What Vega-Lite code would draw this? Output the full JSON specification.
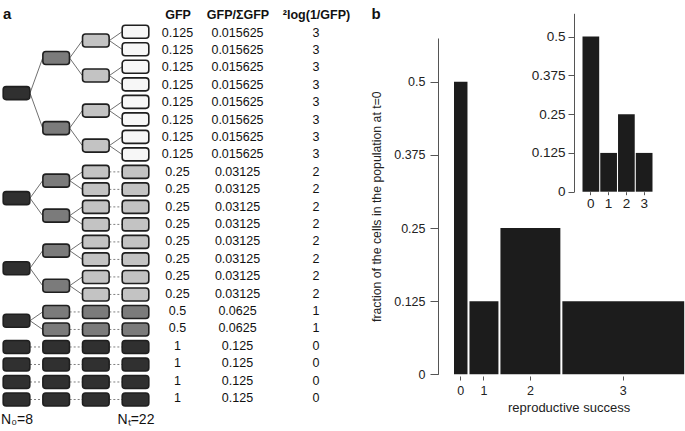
{
  "$schema": "https://vega.github.io/schema/vega-lite/v6.json",
  "width": 685,
  "height": 431,
  "autosize": "none",
  "padding": 0,
  "background": "white",
  "config": {"font": "Liberation Sans", "view": {"stroke": null}, "axis": {"grid": false}},
  "datasets": {
    "splits": [
      {"g": 0, "g2": 1, "r1": 3.5, "r2": 1.5}, {"g": 0, "g2": 1, "r1": 3.5, "r2": 5.5},
      {"g": 1, "g2": 2, "r1": 1.5, "r2": 0.5}, {"g": 1, "g2": 2, "r1": 1.5, "r2": 2.5},
      {"g": 1, "g2": 2, "r1": 5.5, "r2": 4.5}, {"g": 1, "g2": 2, "r1": 5.5, "r2": 6.5},
      {"g": 2, "g2": 3, "r1": 0.5, "r2": 0}, {"g": 2, "g2": 3, "r1": 0.5, "r2": 1},
      {"g": 2, "g2": 3, "r1": 2.5, "r2": 2}, {"g": 2, "g2": 3, "r1": 2.5, "r2": 3},
      {"g": 2, "g2": 3, "r1": 4.5, "r2": 4}, {"g": 2, "g2": 3, "r1": 4.5, "r2": 5},
      {"g": 2, "g2": 3, "r1": 6.5, "r2": 6}, {"g": 2, "g2": 3, "r1": 6.5, "r2": 7},
      {"g": 0, "g2": 1, "r1": 9.5, "r2": 8.5}, {"g": 0, "g2": 1, "r1": 9.5, "r2": 10.5},
      {"g": 1, "g2": 2, "r1": 8.5, "r2": 8}, {"g": 1, "g2": 2, "r1": 8.5, "r2": 9},
      {"g": 1, "g2": 2, "r1": 10.5, "r2": 10}, {"g": 1, "g2": 2, "r1": 10.5, "r2": 11},
      {"g": 0, "g2": 1, "r1": 13.5, "r2": 12.5}, {"g": 0, "g2": 1, "r1": 13.5, "r2": 14.5},
      {"g": 1, "g2": 2, "r1": 12.5, "r2": 12}, {"g": 1, "g2": 2, "r1": 12.5, "r2": 13},
      {"g": 1, "g2": 2, "r1": 14.5, "r2": 14}, {"g": 1, "g2": 2, "r1": 14.5, "r2": 15},
      {"g": 0, "g2": 1, "r1": 16.5, "r2": 16}, {"g": 0, "g2": 1, "r1": 16.5, "r2": 17}
    ],
    "stays": [
      {"g": 2, "g2": 3, "r": 8}, {"g": 2, "g2": 3, "r": 9}, {"g": 2, "g2": 3, "r": 10}, {"g": 2, "g2": 3, "r": 11},
      {"g": 2, "g2": 3, "r": 12}, {"g": 2, "g2": 3, "r": 13}, {"g": 2, "g2": 3, "r": 14}, {"g": 2, "g2": 3, "r": 15},
      {"g": 1, "g2": 2, "r": 16}, {"g": 1, "g2": 2, "r": 17}, {"g": 2, "g2": 3, "r": 16}, {"g": 2, "g2": 3, "r": 17},
      {"g": 0, "g2": 1, "r": 18}, {"g": 1, "g2": 2, "r": 18}, {"g": 2, "g2": 3, "r": 18},
      {"g": 0, "g2": 1, "r": 19}, {"g": 1, "g2": 2, "r": 19}, {"g": 2, "g2": 3, "r": 19},
      {"g": 0, "g2": 1, "r": 20}, {"g": 1, "g2": 2, "r": 20}, {"g": 2, "g2": 3, "r": 20},
      {"g": 0, "g2": 1, "r": 21}, {"g": 1, "g2": 2, "r": 21}, {"g": 2, "g2": 3, "r": 21}
    ],
    "cells": [
      {"gen": 0, "row": 3.5, "div": 0},
      {"gen": 1, "row": 1.5, "div": 1}, {"gen": 1, "row": 5.5, "div": 1},
      {"gen": 2, "row": 0.5, "div": 2}, {"gen": 2, "row": 2.5, "div": 2}, {"gen": 2, "row": 4.5, "div": 2}, {"gen": 2, "row": 6.5, "div": 2},
      {"gen": 3, "row": 0, "div": 3}, {"gen": 3, "row": 1, "div": 3}, {"gen": 3, "row": 2, "div": 3}, {"gen": 3, "row": 3, "div": 3},
      {"gen": 3, "row": 4, "div": 3}, {"gen": 3, "row": 5, "div": 3}, {"gen": 3, "row": 6, "div": 3}, {"gen": 3, "row": 7, "div": 3},
      {"gen": 0, "row": 9.5, "div": 0},
      {"gen": 1, "row": 8.5, "div": 1}, {"gen": 1, "row": 10.5, "div": 1},
      {"gen": 2, "row": 8, "div": 2}, {"gen": 2, "row": 9, "div": 2}, {"gen": 2, "row": 10, "div": 2}, {"gen": 2, "row": 11, "div": 2},
      {"gen": 3, "row": 8, "div": 2}, {"gen": 3, "row": 9, "div": 2}, {"gen": 3, "row": 10, "div": 2}, {"gen": 3, "row": 11, "div": 2},
      {"gen": 0, "row": 13.5, "div": 0},
      {"gen": 1, "row": 12.5, "div": 1}, {"gen": 1, "row": 14.5, "div": 1},
      {"gen": 2, "row": 12, "div": 2}, {"gen": 2, "row": 13, "div": 2}, {"gen": 2, "row": 14, "div": 2}, {"gen": 2, "row": 15, "div": 2},
      {"gen": 3, "row": 12, "div": 2}, {"gen": 3, "row": 13, "div": 2}, {"gen": 3, "row": 14, "div": 2}, {"gen": 3, "row": 15, "div": 2},
      {"gen": 0, "row": 16.5, "div": 0},
      {"gen": 1, "row": 16, "div": 1}, {"gen": 1, "row": 17, "div": 1},
      {"gen": 2, "row": 16, "div": 1}, {"gen": 2, "row": 17, "div": 1},
      {"gen": 3, "row": 16, "div": 1}, {"gen": 3, "row": 17, "div": 1},
      {"gen": 0, "row": 18, "div": 0}, {"gen": 1, "row": 18, "div": 0}, {"gen": 2, "row": 18, "div": 0}, {"gen": 3, "row": 18, "div": 0},
      {"gen": 0, "row": 19, "div": 0}, {"gen": 1, "row": 19, "div": 0}, {"gen": 2, "row": 19, "div": 0}, {"gen": 3, "row": 19, "div": 0},
      {"gen": 0, "row": 20, "div": 0}, {"gen": 1, "row": 20, "div": 0}, {"gen": 2, "row": 20, "div": 0}, {"gen": 3, "row": 20, "div": 0},
      {"gen": 0, "row": 21, "div": 0}, {"gen": 1, "row": 21, "div": 0}, {"gen": 2, "row": 21, "div": 0}, {"gen": 3, "row": 21, "div": 0}
    ],
    "table": [
      {"row": 0, "GFP": 0.125, "GFP/ΣGFP": 0.015625, "²log(1/GFP)": 3},
      {"row": 1, "GFP": 0.125, "GFP/ΣGFP": 0.015625, "²log(1/GFP)": 3},
      {"row": 2, "GFP": 0.125, "GFP/ΣGFP": 0.015625, "²log(1/GFP)": 3},
      {"row": 3, "GFP": 0.125, "GFP/ΣGFP": 0.015625, "²log(1/GFP)": 3},
      {"row": 4, "GFP": 0.125, "GFP/ΣGFP": 0.015625, "²log(1/GFP)": 3},
      {"row": 5, "GFP": 0.125, "GFP/ΣGFP": 0.015625, "²log(1/GFP)": 3},
      {"row": 6, "GFP": 0.125, "GFP/ΣGFP": 0.015625, "²log(1/GFP)": 3},
      {"row": 7, "GFP": 0.125, "GFP/ΣGFP": 0.015625, "²log(1/GFP)": 3},
      {"row": 8, "GFP": 0.25, "GFP/ΣGFP": 0.03125, "²log(1/GFP)": 2},
      {"row": 9, "GFP": 0.25, "GFP/ΣGFP": 0.03125, "²log(1/GFP)": 2},
      {"row": 10, "GFP": 0.25, "GFP/ΣGFP": 0.03125, "²log(1/GFP)": 2},
      {"row": 11, "GFP": 0.25, "GFP/ΣGFP": 0.03125, "²log(1/GFP)": 2},
      {"row": 12, "GFP": 0.25, "GFP/ΣGFP": 0.03125, "²log(1/GFP)": 2},
      {"row": 13, "GFP": 0.25, "GFP/ΣGFP": 0.03125, "²log(1/GFP)": 2},
      {"row": 14, "GFP": 0.25, "GFP/ΣGFP": 0.03125, "²log(1/GFP)": 2},
      {"row": 15, "GFP": 0.25, "GFP/ΣGFP": 0.03125, "²log(1/GFP)": 2},
      {"row": 16, "GFP": 0.5, "GFP/ΣGFP": 0.0625, "²log(1/GFP)": 1},
      {"row": 17, "GFP": 0.5, "GFP/ΣGFP": 0.0625, "²log(1/GFP)": 1},
      {"row": 18, "GFP": 1, "GFP/ΣGFP": 0.125, "²log(1/GFP)": 0},
      {"row": 19, "GFP": 1, "GFP/ΣGFP": 0.125, "²log(1/GFP)": 0},
      {"row": 20, "GFP": 1, "GFP/ΣGFP": 0.125, "²log(1/GFP)": 0},
      {"row": 21, "GFP": 1, "GFP/ΣGFP": 0.125, "²log(1/GFP)": 0}
    ],
    "success": [
      {"rs": 0, "lo": 0, "hi": 1, "frac": 0.5},
      {"rs": 1, "lo": 1, "hi": 3, "frac": 0.125},
      {"rs": 2, "lo": 3, "hi": 7, "frac": 0.25},
      {"rs": 3, "lo": 7, "hi": 15, "frac": 0.125}
    ],
    "inset": [
      {"rs": "0", "frac": 0.5},
      {"rs": "1", "frac": 0.125},
      {"rs": "2", "frac": 0.25},
      {"rs": "3", "frac": 0.125}
    ],
    "panels": [{"panel": "a"}, {"panel": "b"}]
  },
  "resolve": {
    "scale": {"x": "independent", "y": "independent", "color": "independent"},
    "axis": {"x": "independent", "y": "independent"}
  },
  "layer": [
    {
      "data": {"name": "splits"},
      "mark": {"type": "rule", "xOffset": 13.5, "x2Offset": -13.5, "color": "#707070", "strokeWidth": 1},
      "encoding": {
        "x": {"field": "g", "type": "quantitative", "scale": {"domain": [0, 3], "range": [16.5, 135.5], "nice": false, "zero": false}, "axis": null},
        "x2": {"field": "g2"},
        "y": {"field": "r1", "type": "quantitative", "scale": {"domain": [0, 21], "range": [31.8, 399.5], "nice": false, "zero": false}, "axis": null},
        "y2": {"field": "r2"}
      }
    },
    {
      "data": {"name": "stays"},
      "mark": {"type": "rule", "xOffset": 13.5, "x2Offset": -13.5, "color": "#808080", "strokeWidth": 1, "strokeDash": [2, 2]},
      "encoding": {
        "x": {"field": "g", "type": "quantitative", "scale": {"domain": [0, 3], "range": [16.5, 135.5], "nice": false, "zero": false}, "axis": null},
        "x2": {"field": "g2"},
        "y": {"field": "r", "type": "quantitative", "scale": {"domain": [0, 21], "range": [31.8, 399.5], "nice": false, "zero": false}, "axis": null}
      }
    },
    {
      "data": {"name": "cells"},
      "mark": {"type": "rect", "xOffset": -13.3, "x2Offset": 13.3, "yOffset": -6.5, "y2Offset": 6.5, "cornerRadius": 3, "stroke": "#1f1f1f", "strokeWidth": 1.6},
      "encoding": {
        "x": {"field": "gen", "type": "quantitative", "scale": {"domain": [0, 3], "range": [16.5, 135.5], "nice": false, "zero": false},
          "axis": {"orient": "bottom", "values": [0, 3], "labelExpr": "datum.value == 0 ? 'N₀=8' : 'Nₜ=22'", "domain": false, "ticks": false, "tickSize": 0, "labelPadding": 0, "offset": -8, "labelBaseline": "alphabetic", "labelFontSize": 14, "labelColor": "#111", "title": null, "labelFlush": false}},
        "x2": {"field": "gen"},
        "y": {"field": "row", "type": "quantitative", "scale": {"domain": [0, 21], "range": [31.8, 399.5], "nice": false, "zero": false}, "axis": null},
        "y2": {"field": "row"},
        "color": {"field": "div", "type": "ordinal", "scale": {"domain": [0, 1, 2, 3], "range": ["#303030", "#7b7b7b", "#c3c3c3", "#f7f7f7"]}, "legend": null}
      }
    },
    {
      "data": {"name": "table"},
      "mark": {"type": "text", "fontSize": 12.5, "color": "#111", "baseline": "middle"},
      "encoding": {
        "x": {"datum": "GFP", "type": "nominal", "scale": {"type": "point", "range": [170, 185], "padding": 0.5},
          "axis": {"orient": "top", "offset": -18, "domain": false, "ticks": false, "tickSize": 0, "labelPadding": 0, "labelBaseline": "alphabetic", "labelFontWeight": "bold", "labelFontSize": 12.5, "labelAngle": 0, "labelColor": "#111", "title": null, "labelOverlap": false, "labelLimit": 0}},
        "y": {"field": "row", "type": "quantitative", "scale": {"domain": [0, 21], "range": [32.5, 398], "nice": false, "zero": false}, "axis": null},
        "text": {"field": "GFP", "type": "nominal"}
      }
    },
    {
      "data": {"name": "table"},
      "mark": {"type": "text", "fontSize": 12.5, "color": "#111", "baseline": "middle"},
      "encoding": {
        "x": {"datum": "GFP/ΣGFP", "type": "nominal", "scale": {"type": "point", "range": [230, 245], "padding": 0.5},
          "axis": {"orient": "top", "offset": -18, "domain": false, "ticks": false, "tickSize": 0, "labelPadding": 0, "labelBaseline": "alphabetic", "labelFontWeight": "bold", "labelFontSize": 12.5, "labelAngle": 0, "labelColor": "#111", "title": null, "labelOverlap": false, "labelLimit": 0}},
        "y": {"field": "row", "type": "quantitative", "scale": {"domain": [0, 21], "range": [32.5, 398], "nice": false, "zero": false}, "axis": null},
        "text": {"field": "GFP/ΣGFP", "type": "nominal"}
      }
    },
    {
      "data": {"name": "table"},
      "mark": {"type": "text", "fontSize": 12.5, "color": "#111", "baseline": "middle"},
      "encoding": {
        "x": {"datum": "²log(1/GFP)", "type": "nominal", "scale": {"type": "point", "range": [308.5, 323.5], "padding": 0.5},
          "axis": {"orient": "top", "offset": -18, "domain": false, "ticks": false, "tickSize": 0, "labelPadding": 0, "labelBaseline": "alphabetic", "labelFontWeight": "bold", "labelFontSize": 12.5, "labelAngle": 0, "labelColor": "#111", "title": null, "labelOverlap": false, "labelLimit": 0}},
        "y": {"field": "row", "type": "quantitative", "scale": {"domain": [0, 21], "range": [32.5, 398], "nice": false, "zero": false}, "axis": null},
        "text": {"field": "²log(1/GFP)", "type": "nominal"}
      }
    },
    {
      "data": {"name": "success"},
      "mark": {"type": "bar", "color": "#1c1c1c", "binSpacing": 2},
      "encoding": {
        "x": {"field": "lo", "type": "quantitative", "bin": "binned", "scale": {"domain": [0, 15], "range": [452.5, 684.7], "nice": false, "zero": false},
          "axis": {"orient": "bottom", "offset": -55, "values": [0.5, 2, 5, 11], "labelExpr": "datum.value == 0.5 ? '0' : datum.value == 2 ? '1' : datum.value == 5 ? '2' : '3'", "domain": false, "tickSize": 4, "tickColor": "#555", "labelPadding": 4, "labelFontSize": 12.5, "labelColor": "#222", "title": "reproductive success", "titleFontSize": 13, "titleFontWeight": "normal", "titleColor": "#222", "titlePadding": 5, "labelFlush": false}},
        "x2": {"field": "hi"},
        "y": {"field": "frac", "type": "quantitative", "scale": {"domain": [0, 0.575], "range": [374.3, 38], "nice": false},
          "axis": {"orient": "left", "offset": -438, "values": [0, 0.125, 0.25, 0.375, 0.5], "labelExpr": "datum.value + ''", "tickSize": 8, "labelPadding": 5, "labelFontSize": 12.5, "labelColor": "#222", "domainColor": "#555", "tickColor": "#555", "title": "fraction of the cells in the population at t=0", "titleFontSize": 12.3, "titleFontWeight": "normal", "titleColor": "#222", "titlePadding": 10, "labelFlush": false}}
      }
    },
    {
      "data": {"name": "inset"},
      "mark": {"type": "bar", "color": "#1c1c1c"},
      "encoding": {
        "x": {"field": "rs", "type": "ordinal", "scale": {"type": "band", "range": [582.5, 652.5], "paddingInner": 0.06, "paddingOuter": 0},
          "axis": {"orient": "bottom", "offset": -239.3, "domain": false, "tickSize": 3, "tickColor": "#555", "labelPadding": 2, "labelFontSize": 13.5, "labelAngle": 0, "labelColor": "#222", "title": null}},
        "y": {"field": "frac", "type": "quantitative", "scale": {"domain": [0, 0.575], "range": [191.7, 13.3], "nice": false},
          "axis": {"orient": "left", "offset": -574, "values": [0, 0.125, 0.25, 0.375, 0.5], "labelExpr": "datum.value + ''", "tickSize": 6, "labelPadding": 3, "labelFontSize": 13.5, "labelColor": "#222", "domainColor": "#555", "tickColor": "#555", "title": null, "labelFlush": false}}
      }
    },
    {
      "data": {"name": "panels"},
      "mark": {"type": "text", "fontSize": 15, "fontWeight": "bold", "align": "left", "baseline": "alphabetic", "color": "#111"},
      "encoding": {
        "x": {"field": "panel", "type": "nominal", "scale": {"type": "point", "range": [3, 371.5], "padding": 0}, "axis": null},
        "y": {"field": "panel", "type": "nominal", "scale": {"type": "point", "range": [18.5, 18.5], "padding": 0}, "axis": null},
        "text": {"field": "panel"}
      }
    }
  ]
}
